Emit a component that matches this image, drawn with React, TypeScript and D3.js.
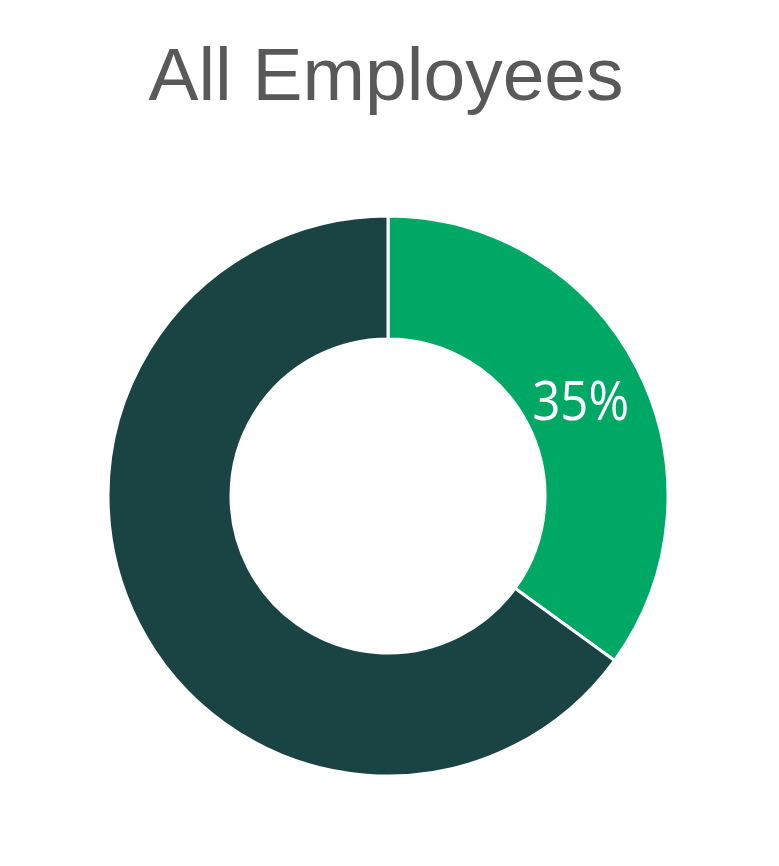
import React, { useEffect, useRef } from "react";
import * as d3 from "d3";

// Share of employees
const categories = ["Group A", "Group B"];
const values = [35, 65];
const colors = ["#00A866", "#1A4444"];
const labels = ["35%", ""];

const App: React.FC = () => {
  const ref = useRef<SVGSVGElement>(null);

  useEffect(() => {
    const width = 779,
      height = 866;
    const cx = 388,
      cy = 496;
    const outerR = 280,
      innerR = 157;

    const svg = d3.select(ref.current);
    svg.selectAll("*").remove();

    svg
      .append("rect")
      .attr("width", width)
      .attr("height", height)
      .attr("fill", "#ffffff");

    // Title
    svg
      .append("text")
      .attr("x", 386)
      .attr("y", 100)
      .attr("text-anchor", "middle")
      .style("font-family", "'Liberation Sans', Arial, sans-serif")
      .style("font-size", "75px")
      .attr("fill", "#595959")
      .text("All Employees");

    const pie = d3
      .pie<number>()
      .sort(null)
      .value((d) => d);

    const arc = d3
      .arc<d3.PieArcDatum<number>>()
      .innerRadius(innerR)
      .outerRadius(outerR);

    const g = svg.append("g").attr("transform", `translate(${cx},${cy})`);
    const arcs = pie(values);

    g.selectAll(".slice")
      .data(arcs)
      .enter()
      .append("path")
      .attr("class", "slice")
      .attr("d", arc)
      .attr("fill", (_, i) => colors[i])
      .attr("stroke", "#ffffff")
      .attr("stroke-width", 3)
      .append("title")
      .text((_, i) => categories[i]);

    // Label on the green slice
    const labelArc = d3
      .arc<d3.PieArcDatum<number>>()
      .innerRadius((innerR + outerR) / 2)
      .outerRadius((innerR + outerR) / 2);

    g.selectAll(".slice-label")
      .data(arcs)
      .enter()
      .append("text")
      .attr("class", "slice-label")
      .attr("x", (d) => labelArc.centroid(d)[0] - 2)
      .attr("y", (d) => labelArc.centroid(d)[1] + 23)
      .attr("text-anchor", "middle")
      .attr("textLength", 97)
      .attr("lengthAdjust", "spacingAndGlyphs")
      .style("font-family", "'Open Sans', sans-serif")
      .style("font-size", "55px")
      .attr("fill", "#ffffff")
      .text((_, i) => labels[i]);
  }, []);

  return (
    <svg
      ref={ref}
      width={779}
      height={866}
      style={{ display: "block", position: "absolute", left: 0, top: 0 }}
    />
  );
};

export default App;
